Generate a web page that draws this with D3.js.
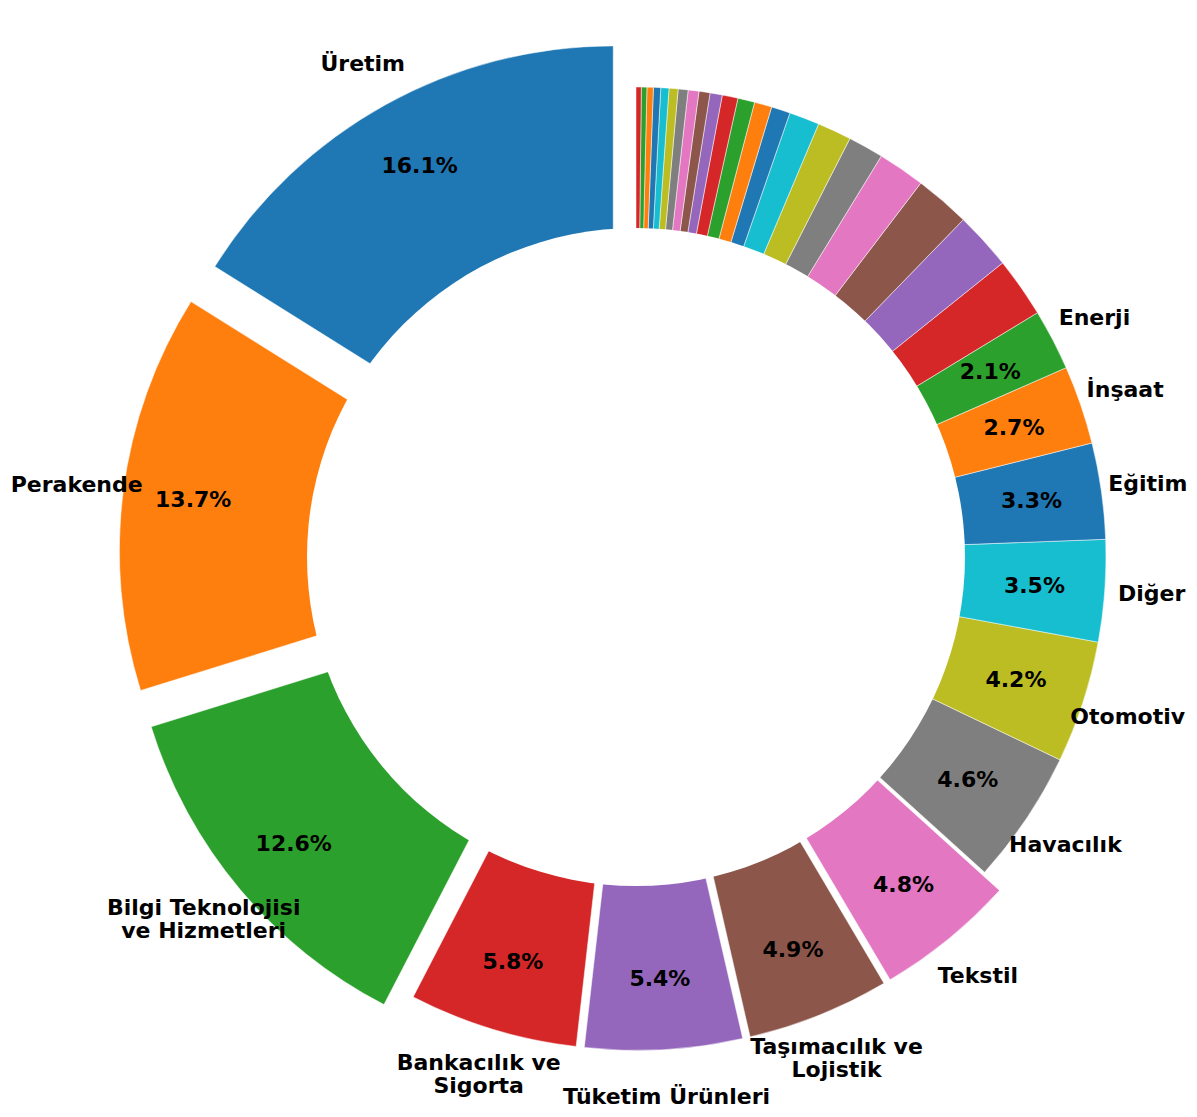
<!DOCTYPE html>
<html>
<head>
<meta charset="utf-8">
<script src="https://cdn.jsdelivr.net/npm/d3@7"></script>
<style>
  body { margin: 0; background: #fff; }
  text { font-family: "DejaVu Sans", sans-serif; font-weight: bold; font-size: 22px; fill: #000; }
</style>
</head>
<body>
<div id="chart"></div>
<script>
// sector shares (%), named ones first, then the unlabeled tail
var sectors = ["Üretim", "Perakende", "Bilgi Teknolojisi\nve Hizmetleri", "Bankacılık ve\nSigorta",
               "Tüketim Ürünleri", "Taşımacılık ve\nLojistik", "Tekstil", "Havacılık", "Otomotiv",
               "Diğer", "Eğitim", "İnşaat", "Enerji"];
var shares = [16.1, 13.7, 12.6, 5.8, 5.4, 4.9, 4.8, 4.6, 4.2, 3.5, 3.3, 2.7, 2.1];
var tailShares = [2.06, 1.98, 1.90, 1.62, 1.22, 1.17, 1.04, 0.65, 0.60, 0.58, 0.54,
                  0.42, 0.38, 0.37, 0.34, 0.31, 0.28, 0.25, 0.22, 0.19, 0.18];
var explodeBy = [0.1, 0.1, 0.1, 0.05, 0.05, 0.05, 0.05];

var width = 1197, height = 1117;
var cx = 636, cy = 557;
var R = 470;

var data = [];
shares.forEach(function (v, i) { data.push({name: sectors[i], v: v, ex: explodeBy[i] || 0}); });
tailShares.forEach(function (v) { data.push({name: "", v: v, ex: 0}); });

var total = d3.sum(data, function (d) { return d.v; });
var color = d3.scaleOrdinal(d3.schemeCategory10);

var svg = d3.select("#chart")
  .append("svg")
    .attr("width", width)
    .attr("height", height);

// counterclockwise from 12 o'clock
var pie = d3.pie()
    .sort(null)
    .startAngle(0)
    .endAngle(-2 * Math.PI)
    .value(function (d) { return d.v; });

var arcs = pie(data);
arcs.forEach(function (a, i) {
    var mid = (a.startAngle + a.endAngle) / 2;
    a.ux = Math.sin(mid);
    a.uy = -Math.cos(mid);
    a.ox = cx + a.ux * a.data.ex * R;
    a.oy = cy + a.uy * a.data.ex * R;
    a.col = color(i);
});

var arc = d3.arc().innerRadius(0).outerRadius(R);

svg.append("g")
  .selectAll("path")
  .data(arcs)
  .enter()
  .append("path")
    .attr("transform", function (d) { return "translate(" + d.ox + "," + d.oy + ")"; })
    .attr("d", arc)
    .style("fill", function (d) { return d.col; })
    .style("stroke", "#fff")
    .style("stroke-width", 0.5);

// hole
svg.append("circle")
    .attr("cx", cx)
    .attr("cy", cy)
    .attr("r", 0.7 * R)
    .style("fill", "#fff");

var named = arcs.filter(function (d) { return d.data.name !== ""; });

// percentages
svg.append("g")
  .selectAll("text")
  .data(named)
  .enter()
  .append("text")
    .attr("text-anchor", "middle")
    .attr("x", function (d) { return d.ox + d.ux * 0.85 * R; })
    .attr("y", function (d) { return d.oy + d.uy * 0.85 * R; })
    .attr("dy", "0.32em")
    .text(function (d) { return (d.data.v / total * 100).toFixed(1) + "%"; });

// sector names
var lineH = 23;
var lbl = svg.append("g")
  .selectAll("text")
  .data(named)
  .enter()
  .append("text")
    .attr("text-anchor", "middle")
    .attr("transform", function (d) {
        return "translate(" + (d.ox + d.ux * 1.1 * R) + "," + (d.oy + d.uy * 1.1 * R) + ")";
    });

lbl.each(function (d) {
    var lines = d.data.name.split("\n");
    var t = d3.select(this);
    lines.forEach(function (s, k) {
        t.append("tspan")
          .attr("x", 0)
          .attr("y", (k - (lines.length - 1) / 2) * lineH)
          .attr("dy", "0.32em")
          .text(s);
    });
});
</script>
</body>
</html>
